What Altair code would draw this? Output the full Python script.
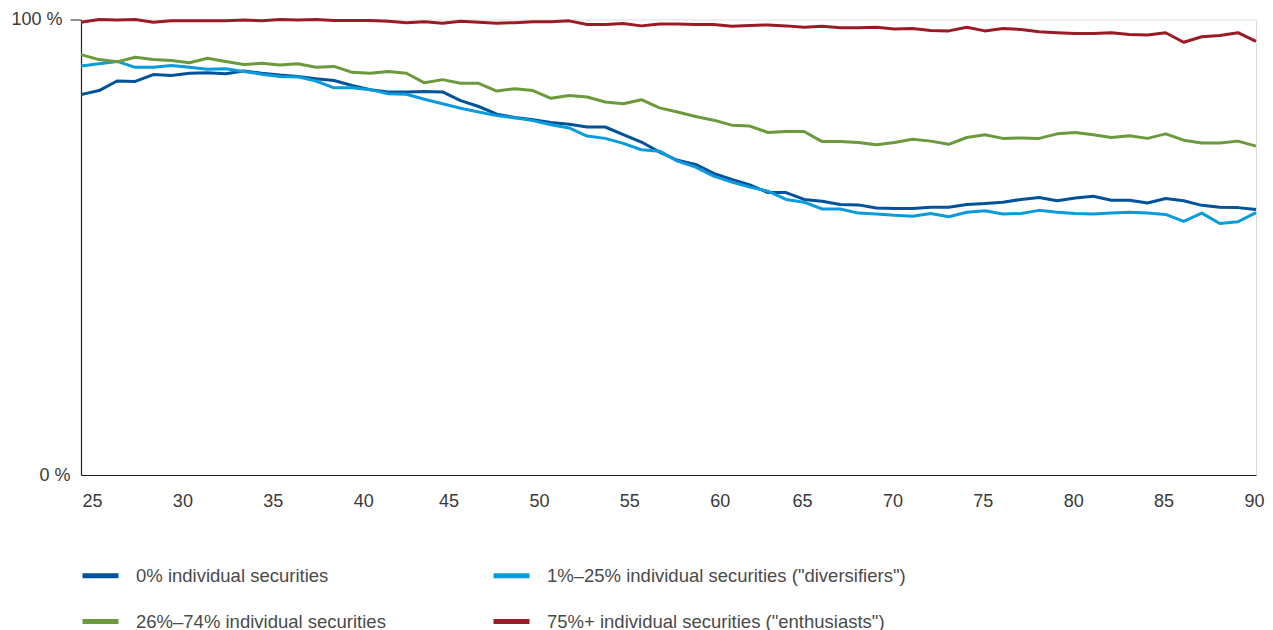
import altair as alt
import pandas as pd

ages = list(range(25, 91))

series_names = [
    "0% individual securities",
    "1%\u201325% individual securities (\"diversifiers\")",
    "26%\u201374% individual securities",
    "75%+ individual securities (\"enthusiasts\")",
]
colors = ["#00539B", "#0A9BDD", "#6B9A3C", "#9B1B24"]

zero_pct = [
    83.5, 84.4, 86.5, 86.4, 87.9, 87.7, 88.2, 88.3, 88.1, 88.7, 88.2, 87.8, 87.5, 87.0, 86.6, 85.5, 84.6, 84.1, 84.1,
    84.2, 84.1, 82.2, 80.9, 79.2, 78.5, 78.0, 77.4, 77.0, 76.4, 76.4, 74.7, 73.1, 70.9,
    69.1, 68.2, 66.2, 64.9, 63.7, 62.0, 62.0, 60.5, 60.1, 59.4, 59.3, 58.6, 58.5, 58.5, 58.8, 58.8,
    59.4, 59.6, 59.9, 60.5, 60.9, 60.2, 60.8, 61.2, 60.3, 60.3, 59.7, 60.7, 60.2, 59.2, 58.8, 58.7, 58.3,
]
diversifiers = [
    89.8, 90.3, 90.8, 89.5, 89.5, 89.9, 89.5, 89.1, 89.2, 88.6, 88.0, 87.5, 87.4, 86.5, 85.0, 85.0, 84.6, 83.7, 83.6,
    82.5, 81.5, 80.5, 79.7, 78.9, 78.4, 77.8, 76.9, 76.2, 74.4, 73.9, 72.8, 71.4, 71.1,
    68.9, 67.6, 65.6, 64.3, 63.2, 62.3, 60.5, 59.9, 58.4, 58.4, 57.5, 57.3, 57.0, 56.8, 57.4, 56.7,
    57.7, 58.0, 57.3, 57.4, 58.1, 57.7, 57.4, 57.3, 57.5, 57.7, 57.5, 57.2, 55.7, 57.5, 55.2, 55.6, 57.6,
]
mid_pct = [
    92.3, 91.2, 90.7, 91.7, 91.2, 91.0, 90.5, 91.5, 90.8, 90.1, 90.4, 90.0, 90.3, 89.5, 89.7, 88.4, 88.2, 88.6, 88.2,
    86.1, 86.8, 86.0, 86.0, 84.3, 84.8, 84.4, 82.7, 83.3, 83.0, 81.9, 81.5, 82.4, 80.6,
    79.7, 78.7, 77.9, 76.8, 76.6, 75.2, 75.4, 75.4, 73.2, 73.2, 73.0, 72.5, 73.0, 73.7, 73.3, 72.6,
    74.1, 74.7, 73.9, 74.0, 73.9, 74.9, 75.2, 74.7, 74.1, 74.5, 73.9, 74.9, 73.5, 72.9, 72.9, 73.3, 72.2,
]
enthusiasts = [
    99.4, 100.0, 99.9, 100.0, 99.4, 99.7, 99.7, 99.7, 99.7, 99.9, 99.7, 100.0, 99.9, 100.0, 99.8, 99.8, 99.8,
    99.6, 99.3, 99.5, 99.2, 99.6, 99.4, 99.2, 99.3, 99.5, 99.5, 99.7, 98.9, 98.9, 99.1, 98.6, 99.0,
    99.0, 98.9, 98.9, 98.5, 98.7, 98.8, 98.6, 98.3, 98.5, 98.2, 98.2, 98.3, 97.9, 98.0, 97.6, 97.5,
    98.3, 97.5, 98.0, 97.8, 97.3, 97.1, 96.9, 96.9, 97.1, 96.7, 96.6, 97.1, 95.0, 96.2, 96.5, 97.1, 95.2,
]

x_ticks = list(range(25, 91, 5))
y_ticks = [0, 100]

rows = []
for name, vals in zip(series_names, [zero_pct, diversifiers, mid_pct, enthusiasts]):
    for a, v in zip(ages, vals):
        rows.append({"age": a, "value": v, "series": name})
df = pd.DataFrame(rows)

FONT = "Liberation Sans"
TEXT = "#3A3A3A"

chart = (
    alt.Chart(df)
    .mark_line(strokeWidth=3, strokeJoin="round")
    .encode(
        x=alt.X(
            "age:Q",
            scale=alt.Scale(domain=[25, 90], nice=False, zero=False),
            axis=alt.Axis(
                values=x_ticks,
                title=None,
                grid=False,
                ticks=False,
                domainColor="#222222",
                domainWidth=1.2,
                labelFont=FONT,
                labelFontSize=18,
                labelColor=TEXT,
                labelPadding=17,
                labelFlush=False,
                labelOffset={
                    "condition": [
                        {"test": "datum.value <= 40", "value": 11},
                        {"test": "datum.value <= 60", "value": 6},
                    ],
                    "value": -2,
                },
            ),
        ),
        y=alt.Y(
            "value:Q",
            scale=alt.Scale(domain=[0, 100], nice=False),
            axis=alt.Axis(
                values=y_ticks,
                title=None,
                grid=False,
                tickSize=11,
                tickColor={"condition": {"test": "datum.value === 0", "value": "transparent"}, "value": "#222222"},
                labelPadding={"condition": {"test": "datum.value === 0", "value": 0}, "value": 8},
                domainColor="#222222",
                domainWidth=1.2,
                labelFont=FONT,
                labelFontSize=18,
                labelColor=TEXT,
                labelExpr="datum.value + ' %'",
            ),
        ),
        color=alt.Color(
            "series:N",
            sort=series_names,
            scale=alt.Scale(domain=series_names, range=colors),
            legend=alt.Legend(
                title=None,
                orient="none",
                legendX=-1,
                legendY=535.5,
                direction="horizontal",
                columns=2,
                columnPadding=97,
                rowPadding=15,
                symbolType="stroke",
                symbolSize=1296,
                symbolStrokeWidth=5,
                labelOffset=15,
                labelFont=FONT,
                labelFontSize=18.5,
                labelColor="#4A4A4A",
                labelLimit=600,
            ),
        ),
    )
    .properties(
        width=1175,
        height=455.5,
        autosize=alt.AutoSizeParams(type="none"),
        padding={"left": 73, "top": 11.5, "right": 9, "bottom": 155},
    )
    .configure_view(stroke=None)
    .configure(background="white")
)

chart.save("out.html", embed_options={"renderer": "svg", "actions": False})
